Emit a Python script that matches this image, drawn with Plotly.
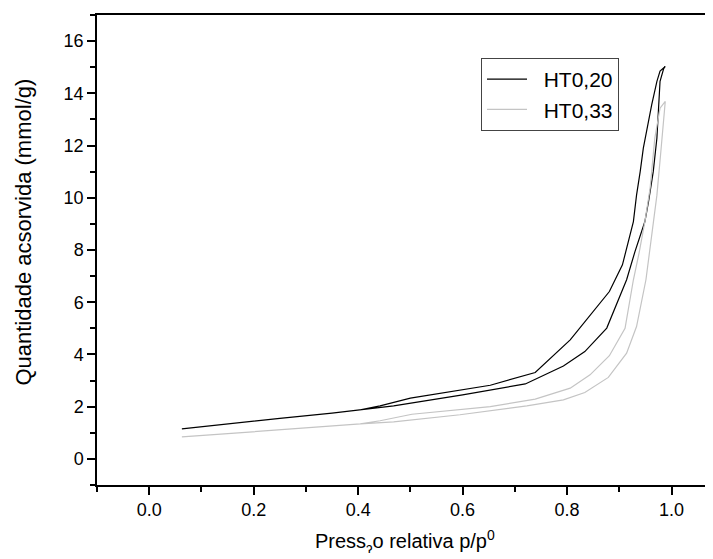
import plotly.graph_objects as go

# HT0,20 : adsorption branch then desorption branch
ht020_ads_x = [0.0625, 0.15, 0.25, 0.35, 0.404, 0.468, 0.60, 0.72, 0.793, 0.834, 0.876, 0.914,
               0.930, 0.949, 0.956, 0.965, 0.972, 0.975, 0.978, 0.985, 0.988]
ht020_ads_y = [1.15, 1.35, 1.55, 1.75, 1.88, 2.03, 2.45, 2.87, 3.56, 4.11, 5.01, 6.86,
               7.94, 9.09, 9.86, 11.0, 12.29, 13.56, 14.46, 14.95, 15.03]
ht020_des_x = [0.988, 0.978, 0.972, 0.962, 0.946, 0.940, 0.933, 0.927, 0.906, 0.881, 0.806,
               0.739, 0.653, 0.500, 0.442, 0.404]
ht020_des_y = [15.03, 14.85, 14.46, 13.56, 11.9, 11.0, 10.1, 9.09, 7.43, 6.41, 4.56,
               3.31, 2.82, 2.33, 2.03, 1.88]

# HT0,33
ht033_ads_x = [0.0625, 0.20, 0.404, 0.468, 0.595, 0.723, 0.793, 0.834, 0.879, 0.914, 0.933,
               0.951, 0.959, 0.965, 0.972, 0.979, 0.984, 0.988]
ht033_ads_y = [0.84, 1.05, 1.34, 1.42, 1.69, 2.03, 2.26, 2.54, 3.12, 4.05, 5.07,
               6.86, 8.07, 9.09, 10.1, 11.65, 12.92, 13.69]
ht033_des_x = [0.988, 0.978, 0.968, 0.959, 0.949, 0.938, 0.927, 0.911, 0.881, 0.844, 0.806,
               0.739, 0.653, 0.503, 0.442, 0.404]
ht033_des_y = [13.69, 13.43, 12.29, 10.37, 9.09, 7.9, 6.86, 5.0, 3.95, 3.22, 2.71,
               2.29, 2.0, 1.71, 1.46, 1.34]

names = ["HT0,20", "HT0,33"]
x_ticks = [0.0, 0.2, 0.4, 0.6, 0.8, 1.0]
y_ticks = [0, 2, 4, 6, 8, 10, 12, 14, 16]
x_title = "Press<sub>ɂ</sub>o relativa p/p<sup>0</sup>"
y_title = "Quantidade acsorvida (mmol/g)"

FONT = "Arial, Liberation Sans, sans-serif"
PAD = "\u00a0\u00a0"

fig = go.Figure()
fig.add_trace(go.Scatter(x=ht020_ads_x + ht020_des_x, y=ht020_ads_y + ht020_des_y,
                         mode="lines", name=PAD + names[0],
                         line=dict(color="#000000", width=1.2)))
fig.add_trace(go.Scatter(x=ht033_ads_x + ht033_des_x, y=ht033_ads_y + ht033_des_y,
                         mode="lines", name=PAD + names[1],
                         line=dict(color="#c4c4c4", width=1.2)))

fig.add_annotation(text=x_title, xref="paper", yref="paper", x=0.5, y=0,
                   xanchor="center", yanchor="top", yshift=-40, showarrow=False,
                   font=dict(family=FONT, size=20, color="#000"))
fig.add_annotation(text=y_title, xref="paper", yref="paper", x=0, y=0.537,
                   xanchor="center", yanchor="middle", xshift=-73, textangle=-90,
                   showarrow=False, font=dict(family=FONT, size=22, color="#000"))

fig.update_layout(
    width=705, height=551,
    margin=dict(l=89, r=0, t=7, b=74, autoexpand=False),
    paper_bgcolor="white", plot_bgcolor="white",
    font=dict(family=FONT, size=18, color="#000000"),
    showlegend=True,
    legend=dict(x=0.6234, y=0.9085, xanchor="left", yanchor="top",
                bgcolor="white", bordercolor="#444444", borderwidth=1,
                font=dict(family=FONT, size=21, color="#000000"),
                tracegroupgap=0, itemwidth=40),
    xaxis=dict(range=[-0.1, 1.0794], tickvals=x_ticks, tickformat=".1f",
               ticks="outside", ticklen=8, tickwidth=1.5, tickcolor="#000",
               minor=dict(dtick=0.1, tick0=0, ticks="outside", ticklen=5, tickwidth=1.5, tickcolor="#000"),
               showline=True, linecolor="#000", linewidth=1.5, mirror=True,
               showgrid=False, zeroline=False, automargin=False,
               tickfont=dict(size=18)),
    yaxis=dict(range=[-1, 17], tickvals=y_ticks,
               ticks="outside", ticklen=8, tickwidth=1.5, tickcolor="#000",
               minor=dict(dtick=1, tick0=0, ticks="outside", ticklen=5, tickwidth=1.5, tickcolor="#000"),
               showline=True, linecolor="#000", linewidth=1.5, mirror=False,
               showgrid=False, zeroline=False, automargin=False,
               tickfont=dict(size=18)),
)

fig.write_html("out.html")
